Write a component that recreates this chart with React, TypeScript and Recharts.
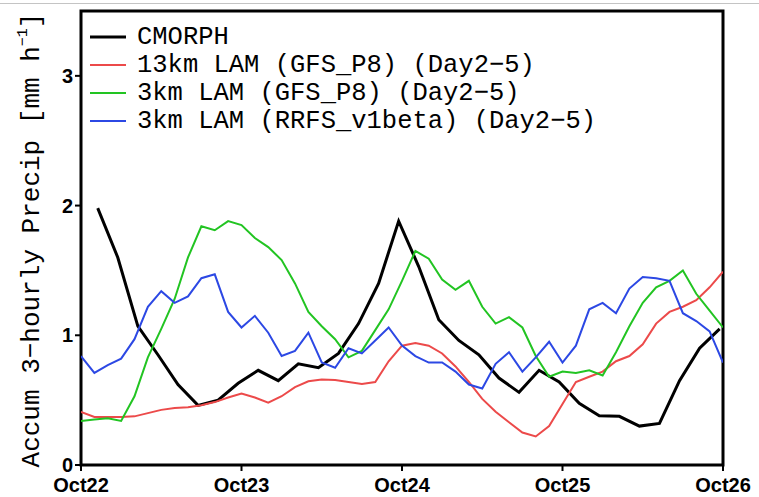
import { LineChart, Line, XAxis, YAxis, ReferenceArea } from 'recharts'

// time axis, hours since Oct22 00Z
const dayHours = [0, 24, 48, 72, 96]
const dayLabels = ['Oct22', 'Oct23', 'Oct24', 'Oct25', 'Oct26']
const yTicks = [0, 1, 2, 3]

// CMORPH, 3-hourly accumulations (plotted mid-window)
const cmorphHours = Array.from({ length: 32 }, (_, i) => 2.5 + i * 3)
const cmorph = [
  1.98, 1.6, 1.07, 0.85, 0.62, 0.46, 0.5, 0.63, 0.73, 0.65, 0.78, 0.75, 0.86, 1.09, 1.4, 1.88,
  1.53, 1.12, 0.96, 0.85, 0.67, 0.56, 0.73, 0.64, 0.475, 0.38, 0.375, 0.3, 0.32, 0.65, 0.9, 1.05,
]

// model runs, every 2 h
const modelHours = Array.from({ length: 49 }, (_, i) => i * 2)
const lam13Gfs = [
  0.41, 0.37, 0.37, 0.37, 0.375, 0.4, 0.425, 0.44, 0.445, 0.46, 0.485, 0.52, 0.55, 0.52, 0.48, 0.53,
  0.6, 0.645, 0.66, 0.655, 0.64, 0.625, 0.64, 0.8, 0.92, 0.94, 0.92, 0.86, 0.76, 0.64, 0.51, 0.41,
  0.33, 0.25, 0.22, 0.3, 0.47, 0.64, 0.68, 0.72, 0.8, 0.84, 0.93, 1.09, 1.18, 1.22, 1.27, 1.37, 1.49,
]
const lam3Gfs = [
  0.34, 0.35, 0.36, 0.34, 0.53, 0.83, 1.05, 1.28, 1.6, 1.84, 1.81, 1.88, 1.85, 1.75, 1.68, 1.58,
  1.4, 1.18, 1.07, 0.97, 0.83, 0.88, 1.04, 1.2, 1.42, 1.65, 1.59, 1.43, 1.35, 1.42, 1.22, 1.09,
  1.14, 1.06, 0.84, 0.68, 0.72, 0.71, 0.73, 0.69, 0.87, 1.07, 1.25, 1.37, 1.42, 1.5, 1.32, 1.19, 1.06,
]
const lam3Rrfs = [
  0.84, 0.71, 0.77, 0.82, 0.97, 1.22, 1.34, 1.25, 1.3, 1.44, 1.47, 1.18, 1.06, 1.15, 1.02, 0.84,
  0.88, 1.02, 0.79, 0.75, 0.9, 0.86, 0.96, 1.06, 0.92, 0.84, 0.79, 0.79, 0.72, 0.62, 0.59, 0.78,
  0.87, 0.72, 0.83, 0.95, 0.79, 0.92, 1.2, 1.25, 1.17, 1.36, 1.45, 1.44, 1.42, 1.17, 1.11, 1.03, 0.79,
]

const toPoints = (hours: number[], vals: number[]) => vals.map((v, i) => ({ h: hours[i], v }))

const series = [
  { name: 'CMORPH', color: '#000000', width: 3, data: toPoints(cmorphHours, cmorph) },
  { name: '13km LAM (GFS_P8) (Day2−5)', color: '#ec4a4a', width: 2, data: toPoints(modelHours, lam13Gfs) },
  { name: '3km LAM (GFS_P8) (Day2−5)', color: '#22c422', width: 2, data: toPoints(modelHours, lam3Gfs) },
  { name: '3km LAM (RRFS_v1beta) (Day2−5)', color: '#2c48e4', width: 2, data: toPoints(modelHours, lam3Rrfs) },
]

const mono = '"Liberation Mono", monospace'
const tickFont = { fill: '#000', fontSize: 20, fontWeight: 700, fontFamily: '"Liberation Sans", Arial, sans-serif' }

function YTitle({ viewBox }: any) {
  const cx = 32
  const cy = viewBox.y + viewBox.height / 2 + 2
  return (
    <text
      x={cx}
      y={cy}
      transform={`rotate(-90 ${cx} ${cy})`}
      textAnchor="middle"
      dominantBaseline="central"
      fontFamily={mono}
      fontSize={26}
      fill="#000"
    >
      Accum 3−hourly Precip [mm h
      <tspan fontSize={15} dy={-9}>−1</tspan>
      <tspan dy={9}>]</tspan>
    </text>
  )
}

function LegendBox() {
  return (
    <div style={{ position: 'absolute', left: 90, top: 23, fontFamily: mono, fontSize: 25.5, color: '#000' }}>
      {series.map((s) => (
        <div key={s.name} style={{ display: 'flex', alignItems: 'center', height: 28, whiteSpace: 'pre' }}>
          <svg width={36} height={6} style={{ marginRight: 11 }}>
            <line x1={0} y1={3} x2={36} y2={3} stroke={s.color} strokeWidth={s.width} />
          </svg>
          <span>{s.name}</span>
        </div>
      ))}
    </div>
  )
}

export default function App() {
  return (
    <div style={{ position: 'absolute', left: 0, top: 0, width: 759, height: 497, background: '#fff' }}>
      <div style={{ position: 'absolute', left: 0, top: 3, width: 759, height: 1, background: '#c4c4c4' }} />
      <LineChart width={759} height={497} margin={{ top: 11, right: 36, bottom: 2, left: 21 }}>
        <XAxis
          type="number"
          dataKey="h"
          domain={[0, 96]}
          ticks={dayHours}
          tickFormatter={(h: number) => dayLabels[dayHours.indexOf(h)]}
          height={30}
          axisLine={false}
          tickLine={{ stroke: '#000', strokeWidth: 2 }}
          tickSize={6}
          tickMargin={7}
          tick={tickFont}
          interval={0}
          allowDataOverflow
        />
        <YAxis
          type="number"
          domain={[0, 3.5]}
          ticks={yTicks}
          width={60}
          axisLine={false}
          tickLine={{ stroke: '#000', strokeWidth: 2 }}
          tickSize={6}
          tick={tickFont}
          label={<YTitle />}
          allowDataOverflow
        />
        {series.map((s) => (
          <Line
            key={s.name}
            data={s.data}
            dataKey="v"
            type="linear"
            stroke={s.color}
            strokeWidth={s.width}
            dot={false}
            isAnimationActive={false}
          />
        ))}
        <ReferenceArea x1={0} x2={96} y1={0} y2={3.5} fill="none" stroke="#000" strokeWidth={3} />
      </LineChart>
      <LegendBox />
    </div>
  )
}
